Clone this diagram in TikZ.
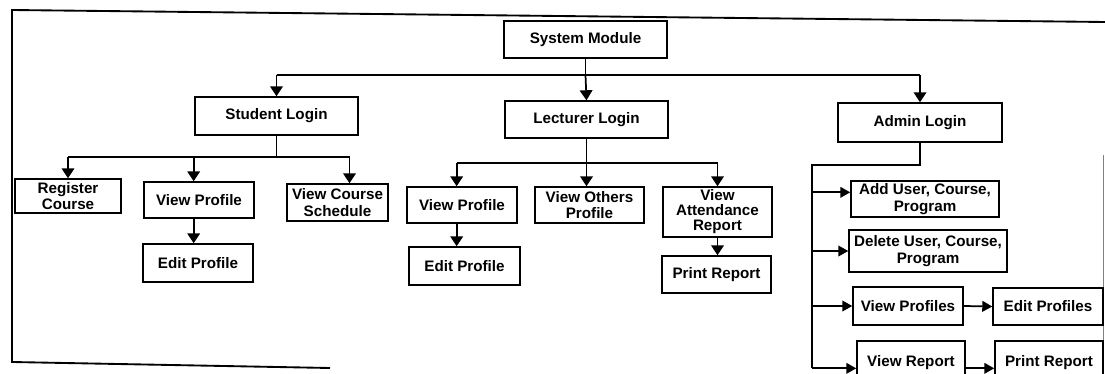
\documentclass[tikz,border=0pt]{standalone}
\usepackage{fontspec}
\setmainfont{Liberation Sans}
\usetikzlibrary{arrows.meta}
\begin{document}
\begin{tikzpicture}[x=0.75pt,y=-0.75pt,
  box/.style={draw=black,line width=1.1pt,align=center,inner sep=1pt,
    font=\fontsize{11.4}{12.6}\selectfont\bfseries},
  conn/.style={line width=1.3pt},
  arr/.style={line width=1.3pt,-{Triangle[width=9.5pt,length=7.5pt]}},
  harr/.style={line width=1.3pt,-{Triangle[width=8pt,length=7.5pt]}},
  frame/.style={line width=1.4pt}]
\useasboundingbox (0,0) rectangle (1105,374);
\clip (0,0) rectangle (1105,374);
% outer frame
\draw[frame] (1105,22) -- (12,10) -- (12,362) -- (330,368);
\draw[gray,line width=0.5pt] (1103,155) -- (1103,374);
% level 0 and 1
\node[box,minimum width=122.25pt,minimum height=27.75pt] (sm) at (585.5,39.5) {System Module};
\node[box,minimum width=122.25pt,minimum height=28.5pt] (sl) at (276.5,116) {Student Login};
\node[box,minimum width=122.25pt,minimum height=27.75pt] (ll) at (586.5,119.5) {Lecturer Login};
\node[box,minimum width=123pt,minimum height=29.25pt] (al) at (920,122.5) {Admin Login};
% student children
\node[box,minimum width=79.5pt,minimum height=25.5pt] (rc) at (68,196) {Register\\Course};
\node[box,minimum width=82.5pt,minimum height=27pt] (svp) at (199,200) {View Profile};
\node[box,minimum width=82.5pt,minimum height=28.5pt] (sep) at (198,263) {Edit Profile};
\node[box,minimum width=75.75pt,minimum height=27.75pt] (vcs) at (337.5,202.5) {View Course\\Schedule};
% lecturer children
\node[box,minimum width=82.5pt,minimum height=27pt] (lvp) at (462,205) {View Profile};
\node[box,minimum width=83.25pt,minimum height=28.5pt] (lep) at (464.5,266) {Edit Profile};
\node[box,minimum width=81.75pt,minimum height=27pt] (vop) at (589.5,205) {View Others\\Profile};
\node[box,minimum width=81.75pt,minimum height=37.5pt,
  font=\fontsize{11.4}{11.3}\selectfont\bfseries] (var) at (717.5,212) {View\\Attendance\\Report};
\node[box,minimum width=81.75pt,minimum height=27.75pt] (lpr) at (716.5,274.5) {Print Report};
% admin children
\node[box,minimum width=111pt,minimum height=27pt] (add) at (925,199) {Add User, Course,\\Program};
\node[box,minimum width=118.5pt,minimum height=31.5pt] (del) at (928,251) {Delete User, Course,\\Program};
\node[box,minimum width=82.5pt,minimum height=28.5pt] (vps) at (908,306) {View Profiles};
\node[box,minimum width=82.5pt,minimum height=27.75pt] (eps) at (1048,306.5) {Edit Profiles};
\node[box,minimum width=81pt,minimum height=33pt] (vr) at (911,363) {View Report};
\node[box,minimum width=81pt,minimum height=33pt] (apr) at (1049,363) {Print Report};
% coordinates for bars
\coordinate (bar0) at (0,75);
\coordinate (bar1) at (0,157);
\coordinate (bar2) at (0,163);
\coordinate (bar3) at (0,165);
\coordinate (trunk) at (812,0);
% top level connectors
\draw[conn] (sm.south) -- (sm.south |- bar0);
\draw[arr] (sl.north |- bar0) -| (sl.north);
\draw[arr] (sm.south |- bar0) -- (ll.north);
\draw[conn] (sl.north |- bar0) -- (al.north |- bar0);
\draw[arr] (al.north |- bar0) -- (al.north);
% student
\draw[conn] (sl.south) -- (sl.south |- bar1);
\draw[conn] (rc.north |- bar1) -- ([xshift=9pt]vcs.north |- bar1);
\draw[arr] (rc.north |- bar1) -- (rc.north);
\draw[arr] ([xshift=-4pt]svp.north |- bar1) -- ([xshift=-4pt]svp.north);
\draw[arr] ([xshift=9pt]vcs.north |- bar1) -- ([xshift=9pt]vcs.north);
\draw[arr] ([xshift=-4pt]svp.south) -- ([xshift=-4pt]svp.south |- sep.north);
% lecturer
\draw[conn] (ll.south) -- (ll.south |- bar2);
\draw[conn] ([xshift=-4pt]lvp.north |- bar2) -- (var.north |- bar2);
\draw[arr] ([xshift=-4pt]lvp.north |- bar2) -- ([xshift=-4pt]lvp.north);
\draw[arr] (ll.south |- bar2) -- (ll.south |- vop.north);
\draw[arr] (var.north |- bar2) -- (var.north);
\draw[arr] ([xshift=-4pt]lvp.south) -- ([xshift=-4pt]lvp.south |- lep.north);
\draw[arr] (var.south) -- (var.south |- lpr.north);
% admin
\draw[conn] (al.south) |- (trunk |- bar3) -- ([yshift=-4pt]trunk |- vr.west);
\draw[harr] ([yshift=5pt]trunk |- add.west) -- ([yshift=5pt]add.west);
\draw[harr] (trunk |- del.west) -- (del.west);
\draw[harr] (trunk |- vps.west) -- (vps.west);
\draw[harr] ([yshift=-4pt]trunk |- vr.west) -- ([yshift=-4pt]vr.west);
\draw[harr] (vps.east) -- (eps.west);
\draw[harr] ([yshift=-4pt]vr.east) -- ([yshift=-4pt]apr.west);
\end{tikzpicture}
\end{document}
